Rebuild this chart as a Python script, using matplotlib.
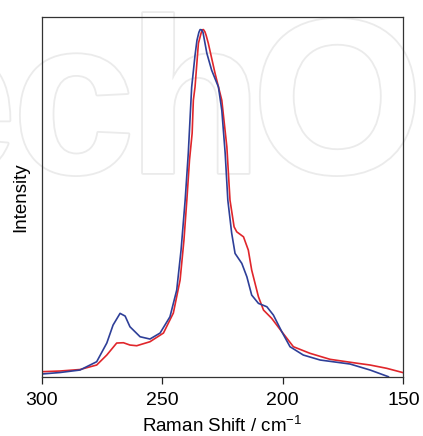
import matplotlib
matplotlib.use("Agg")
import matplotlib.pyplot as plt
import matplotlib.patheffects as pe

# Raman spectra (shift in cm-1, intensity in arbitrary units)
blue_shift = [300.0, 292.4, 284.1, 277.2, 273.0, 270.4, 267.5, 265.4, 263.4, 259.2,
              255.1, 250.9, 246.8, 244.0, 242.2, 240.5, 239.2, 237.8, 236.4, 235.6,
              234.8, 234.3, 233.7, 233.1, 231.5, 229.5, 226.7, 225.3, 223.9, 222.8,
              221.2, 219.8, 217.0, 214.9, 212.9, 210.1, 206.6, 203.9, 200.4, 197.0,
              191.5, 184.5, 172.1, 163.8, 156.2]
blue_int = [3.0, 4.5, 7.0, 15.3, 34.0, 52.0, 63.7, 61.0, 50.3, 40.3,
            38.0, 44.0, 60.3, 87.0, 127.0, 177.0, 224.0, 290.0, 322.0, 337.0,
            345.0, 347.7, 347.5, 345.0, 324.0, 307.0, 290.3, 267.0, 224.0, 177.0,
            144.0, 123.7, 113.7, 100.3, 82.0, 73.7, 70.3, 62.0, 45.3, 30.3,
            22.0, 17.0, 13.0, 7.0, 0.3]

red_shift = [300.0, 292.4, 284.1, 277.2, 273.0, 268.9, 266.1, 263.4, 260.6, 255.1,
             249.5, 245.4, 242.6, 241.0, 239.8, 238.7, 237.6, 237.1, 236.4, 235.0,
             233.9, 233.4, 232.9, 232.3, 231.8, 230.9, 228.1, 225.3, 223.2, 221.9,
             220.2, 219.1, 216.3, 214.3, 212.9, 210.1, 208.0, 204.6, 200.4, 195.6,
             188.7, 180.4, 170.7, 163.8, 156.9, 150.0]
red_int = [5.3, 6.0, 7.5, 12.0, 22.0, 34.0, 34.3, 32.0, 31.3, 35.3,
           44.0, 64.0, 97.0, 137.0, 177.0, 217.0, 244.0, 277.0, 290.3, 334.0,
           344.0, 347.5, 347.7, 345.5, 342.0, 334.0, 304.0, 277.0, 230.3, 177.0,
           150.3, 145.3, 140.3, 127.0, 107.0, 80.3, 67.0, 58.7, 45.3, 30.3,
           23.7, 17.7, 14.3, 12.0, 8.7, 4.3]

x_ticks = [300, 250, 200, 150]

# watermark letters and their centres (figure fraction)
mark_letters = ["e", "c", "h", "O"]
mark_x = [-0.105, 0.174, 0.461, 0.798]

plt.rcParams["font.family"] = ["Liberation Sans", "DejaVu Sans"]
plt.rcParams["mathtext.fontset"] = "custom"
plt.rcParams["mathtext.rm"] = "Liberation Sans"
plt.rcParams["mathtext.it"] = "Liberation Sans"

fig = plt.figure(figsize=(4.23, 4.36), dpi=100)
ax = fig.add_axes([0.0986, 0.1353, 0.8549, 0.8250])
ax.set_facecolor("none")
ax.set_zorder(2)

# faint outlined watermark behind the plot
for letter, xm in zip(mark_letters, mark_x):
    fig.text(xm, 0.6032, letter, fontsize=159, fontweight="bold", color="white",
             ha="center", va="baseline", zorder=0,
             path_effects=[pe.withStroke(linewidth=2.6, foreground="#ebebeb")])

ax.plot(red_shift, red_int, color="#e0262b", lw=1.2)
ax.plot(blue_shift, blue_int, color="#2e3f98", lw=1.2)

ax.set_xlim(300, 150)
ax.set_ylim(0, 360)
ax.set_xticks(x_ticks)
ax.set_yticks([])
ax.tick_params(axis="x", direction="out", length=5, width=0.9,
               labelsize=14, pad=6, colors="#222222")
ax.tick_params(axis="x", labelcolor="black")
for s in ax.spines.values():
    s.set_color("#333333")
    s.set_linewidth(0.9)

ax.set_xlabel("Raman Shift / cm$^{-1}$", fontsize=13.5, labelpad=5)
ax.set_ylabel("Intensity", fontsize=13.5, labelpad=9)

fig.savefig("out.png", dpi=100)
